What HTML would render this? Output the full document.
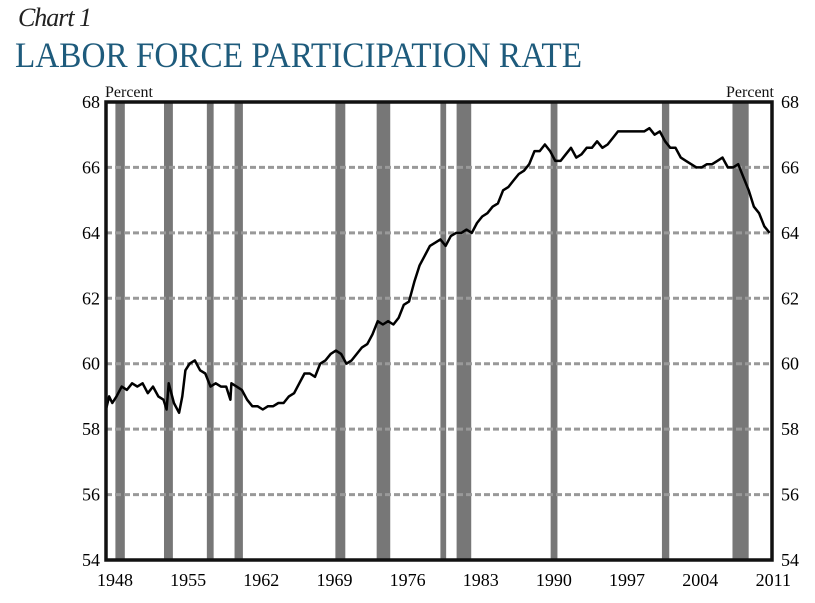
<!DOCTYPE html>
<html><head><meta charset="utf-8"><style>
body{margin:0;background:#fff;}
svg{display:block;font-family:"Liberation Serif",serif;}
</style></head><body>
<svg id="c" width="815" height="603">
<text x="18" y="26" font-size="26" font-style="italic" fill="#222" textLength="74">Chart 1</text>
<text x="15" y="67" font-size="36" fill="#1e5b7c" textLength="567" lengthAdjust="spacingAndGlyphs">LABOR FORCE PARTICIPATION RATE</text>
<text x="105" y="97" font-size="16" fill="#111">Percent</text>
<text x="774" y="97" font-size="16" fill="#111" text-anchor="end">Percent</text>
<g id="rec"></g><g id="grid"></g><g id="line"></g><g id="axes"></g>
</svg>
<script>
const recessionStarts=[1948.9,1953.55,1957.65,1960.3,1969.95,1973.9,1980.0,1981.55,1990.55,2001.2,2007.95];
const recessionEnds=[1949.8,1954.4,1958.3,1961.1,1970.9,1975.2,1980.55,1982.95,1991.2,2001.9,2009.5];
const yTicks=[54,56,58,60,62,64,66,68];
const xTickLabels=[1948,1955,1962,1969,1976,1983,1990,1997,2004,2011];
const years=[1948.0,1948.3,1948.6,1949,1949.5,1950,1950.5,1951,1951.5,1952,1952.5,1953,1953.5,1953.8,1954,1954.5,1955,1955.3,1955.6,1956,1956.5,1957,1957.5,1958,1958.5,1959,1959.5,1959.9,1960,1960.5,1961,1961.5,1962,1962.5,1963,1963.5,1964,1964.5,1965,1965.5,1966,1966.5,1967,1967.5,1968,1968.5,1969,1969.5,1970,1970.5,1971,1971.5,1972,1972.5,1973,1973.5,1974,1974.5,1975,1975.5,1976,1976.5,1977,1977.5,1978,1978.5,1979,1979.5,1980,1980.5,1981,1981.5,1982,1982.5,1983,1983.5,1984,1984.5,1985,1985.5,1986,1986.5,1987,1987.5,1988,1988.5,1989,1989.5,1990,1990.5,1991,1991.5,1992,1992.5,1993,1993.5,1994,1994.5,1995,1995.5,1996,1996.5,1997,1997.5,1998,1998.5,1999,1999.5,2000,2000.5,2001,2001.5,2002,2002.5,2003,2003.5,2004,2004.5,2005,2005.5,2006,2006.5,2007,2007.5,2008,2008.5,2009,2009.5,2010,2010.5,2011,2011.5];
const rates=[58.6,59.0,58.8,59.0,59.3,59.2,59.4,59.3,59.4,59.1,59.3,59.0,58.9,58.6,59.4,58.8,58.5,59.0,59.8,60.0,60.1,59.8,59.7,59.3,59.4,59.3,59.3,58.9,59.4,59.3,59.2,58.9,58.7,58.7,58.6,58.7,58.7,58.8,58.8,59.0,59.1,59.4,59.7,59.7,59.6,60.0,60.1,60.3,60.4,60.3,60.0,60.1,60.3,60.5,60.6,60.9,61.3,61.2,61.3,61.2,61.4,61.8,61.9,62.5,63.0,63.3,63.6,63.7,63.8,63.6,63.9,64.0,64.0,64.1,64.0,64.3,64.5,64.6,64.8,64.9,65.3,65.4,65.6,65.8,65.9,66.1,66.5,66.5,66.7,66.5,66.2,66.2,66.4,66.6,66.3,66.4,66.6,66.6,66.8,66.6,66.7,66.9,67.1,67.1,67.1,67.1,67.1,67.1,67.2,67.0,67.1,66.8,66.6,66.6,66.3,66.2,66.1,66.0,66.0,66.1,66.1,66.2,66.3,66.0,66.0,66.1,65.7,65.3,64.8,64.6,64.2,64.0];
const L=106,R=772,T=102,B=560;
const xs=t=>L+(t-1948)*10.45;
const ys=v=>B-(v-54)*(B-T)/14;
const NS='http://www.w3.org/2000/svg';
function mk(tag,parent){const e=document.createElementNS(NS,tag);document.getElementById(parent)?document.getElementById(parent).appendChild(e):parent.appendChild(e);return e;}
recessionStarts.forEach((s,i)=>{
 const r=mk('rect','rec');
 
 
 r.setAttribute('x',xs(s));r.setAttribute('y',T);r.setAttribute('width',xs(recessionEnds[i])-xs(s));r.setAttribute('height',B-T);r.setAttribute('fill','#777');
});
yTicks.forEach(v=>{
 if(v>54&&v<68){const g=mk('line','grid');
 
 
 g.setAttribute('x1',L);g.setAttribute('x2',R);g.setAttribute('y1',ys(v));g.setAttribute('y2',ys(v));g.setAttribute('stroke','#999');g.setAttribute('stroke-width','3');g.setAttribute('stroke-dasharray','6,3');}
 const a=mk('text','axes');
 
 
 a.setAttribute('x',L-6);a.setAttribute('y',ys(v)+6);a.setAttribute('text-anchor','end');a.setAttribute('font-size','18');a.textContent=v;
 const b=mk('text','axes');
 
 
 b.setAttribute('x',R+9);b.setAttribute('y',ys(v)+6);b.setAttribute('font-size','18');b.textContent=v;
});
xTickLabels.forEach(y=>{
 const t=mk('text','axes');
 
 
 t.setAttribute('x',xs(y)+9);t.setAttribute('y',586);t.setAttribute('text-anchor','middle');t.setAttribute('font-size','18');t.textContent=y;
});
const p=mk('path','line');


p.setAttribute('d',years.map((y,i)=>(i?'L':'M')+xs(y).toFixed(1)+','+ys(rates[i]).toFixed(1)).join(''));
p.setAttribute('fill','none');p.setAttribute('stroke','#000');p.setAttribute('stroke-width','2.5');p.setAttribute('stroke-linejoin','round');
const f=mk('rect','axes');


f.setAttribute('x',L);f.setAttribute('y',T);f.setAttribute('width',R-L);f.setAttribute('height',B-T);f.setAttribute('fill','none');f.setAttribute('stroke','#111');f.setAttribute('stroke-width','3.5');
</script>
</body></html>
